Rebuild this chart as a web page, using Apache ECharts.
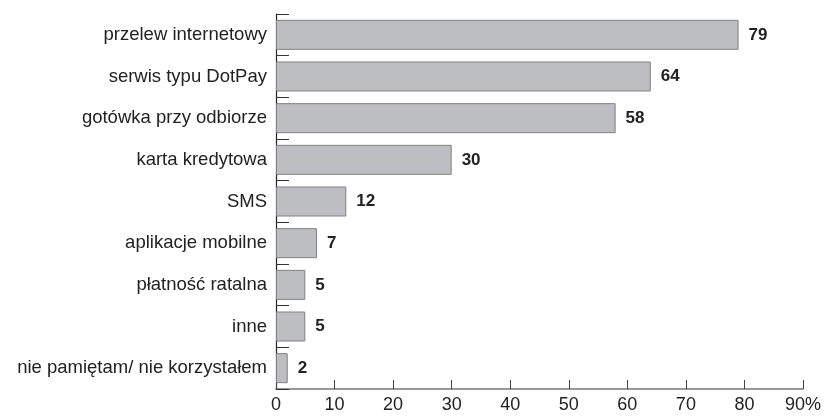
<!DOCTYPE html>
<html><head><meta charset="utf-8">
<script src="https://cdn.jsdelivr.net/npm/echarts@6/dist/echarts.min.js"></script>
<style>html,body{margin:0;padding:0;background:#fff}#c{width:824px;height:416px}</style>
</head><body><div id="c"></div>
<script>
const categories = ["przelew internetowy","serwis typu DotPay","gotówka przy odbiorze","karta kredytowa","SMS","aplikacje mobilne","płatność ratalna","inne","nie pamiętam/ nie korzystałem"];
const values = [79,64,58,30,12,7,5,5,2];
const xTicks = [0,10,20,30,40,50,60,70,80,90];
const font = "'Liberation Sans', Arial, Helvetica, sans-serif";
const chart = echarts.init(document.getElementById('c'));
chart.setOption({
  animation:false,
  grid:{left:276,right:21,top:14,bottom:27,containLabel:false},
  xAxis:{type:'value',min:0,max:90,interval:10,
    axisLine:{show:true,lineStyle:{color:'#777',width:1.5}},
    axisTick:{show:true,inside:true,length:9,lineStyle:{color:'#444'}},
    splitLine:{show:false},
    axisLabel:{color:'#222',fontSize:18,fontFamily:font,margin:7,
      formatter:v=>v===xTicks[xTicks.length-1]?v+'%':String(v)}},
  yAxis:{type:'category',data:categories,inverse:true,
    axisLine:{show:true,lineStyle:{color:'#222',width:1.2}},
    axisTick:{show:true,inside:true,length:13,lineStyle:{color:'#333'}},
    axisLabel:{color:'#222',fontSize:18.5,fontFamily:font,margin:9,padding:[5,0,0,0]}},
  series:[{type:'bar',data:values,barCategoryGap:'28%',
    itemStyle:{color:'#bdbec2',borderColor:'#808080',borderWidth:1},
    label:{show:true,position:'right',distance:10,color:'#222',fontSize:17,fontWeight:'bold',fontFamily:font}}]
});
</script></body></html>
